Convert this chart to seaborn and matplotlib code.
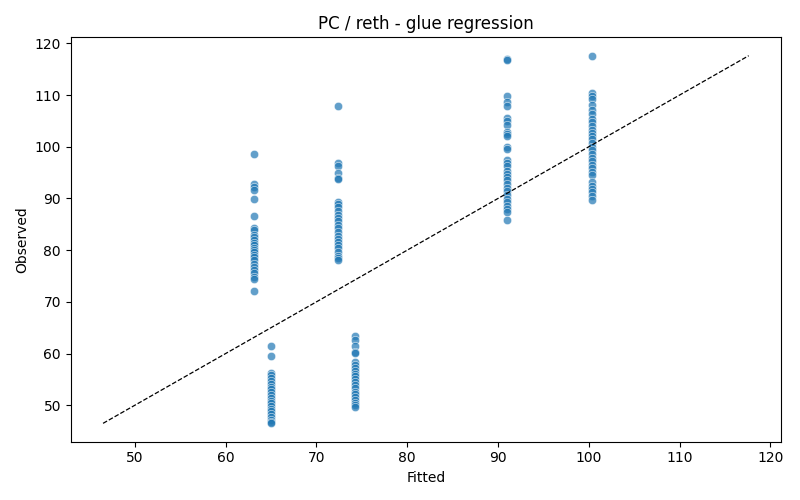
"""
Fitted vs observed scatter for the glue regression (PC / reth)
"""

import numpy as np
import pandas as pd
import matplotlib
matplotlib.use('Agg')
import matplotlib.pyplot as plt
import seaborn as sns

# Fitted value for each group
fitted_levels = [63.1, 65.0, 72.4, 74.25, 91.0, 100.3]

obs_63 = [98.6, 92.8, 92.3, 91.7, 89.9, 86.6, 84.2, 83.8, 83.0, 82.6, 81.9,
          81.3, 80.9, 80.5, 80.1, 79.6, 79.1, 78.6, 78.1, 77.4, 76.8, 76.2,
          75.6, 74.8, 74.5, 72.1]
obs_65 = [61.5, 59.6, 56.3, 55.8, 55.2, 54.7, 54.1, 53.6, 53.2, 52.6, 52.0,
          51.4, 50.9, 50.5, 49.9, 49.3, 48.9, 48.4, 47.8, 47.2, 46.7, 46.5]
obs_72 = [107.9, 96.9, 96.2, 95.0, 93.9, 93.7, 89.4, 88.9, 88.3, 87.6, 86.7,
          86.2, 85.6, 84.8, 84.2, 83.6, 82.8, 82.2, 81.6, 80.9, 80.4, 79.6,
          78.9, 78.4, 78.0]
obs_74 = [63.4, 62.6, 61.5, 60.3, 60.1, 58.3, 57.8, 57.2, 56.6, 56.1, 55.6,
          55.0, 54.5, 53.9, 53.3, 52.6, 52.1, 51.6, 51.0, 50.5, 50.0, 49.6]
obs_91 = [117.0, 116.8, 109.8, 108.6, 107.9, 105.6, 104.9, 104.2, 102.9,
          102.4, 102.0, 100.0, 99.6, 97.4, 96.8, 96.2, 95.4, 94.8, 94.2, 93.5,
          92.8, 92.1, 91.4, 90.6, 89.9, 89.3, 88.6, 87.9, 87.4, 85.9]
obs_100 = [117.6, 110.3, 109.8, 109.2, 108.0, 107.1, 106.4, 105.4, 104.8,
           104.0, 103.3, 102.7, 102.1, 101.4, 100.7, 100.0, 99.3, 98.6, 97.9,
           97.3, 96.5, 95.8, 95.1, 94.5, 93.2, 92.4, 91.9, 91.2, 90.4, 89.6]


def build_frame():
    groups = [obs_63, obs_65, obs_72, obs_74, obs_91, obs_100]
    rows = []
    for fit, obs in zip(fitted_levels, groups):
        for o in obs:
            rows.append({'Fitted': fit, 'Observed': o})
    return pd.DataFrame(rows)


def main():
    df = build_frame()

    fig, ax = plt.subplots(figsize=(8, 5), dpi=100)
    sns.scatterplot(data=df, x='Fitted', y='Observed', alpha=0.7, ax=ax)

    # identity line over the observed range
    lo = min(df['Fitted'].min(), df['Observed'].min())
    hi = max(df['Fitted'].max(), df['Observed'].max())
    ax.plot([lo, hi], [lo, hi], 'k--', linewidth=0.9)

    ax.set_title('PC / reth - glue regression')
    ax.set_xlabel('Fitted')
    ax.set_ylabel('Observed')

    plt.tight_layout()
    plt.savefig('out.png', dpi=100)
    plt.close()


if __name__ == "__main__":
    main()
